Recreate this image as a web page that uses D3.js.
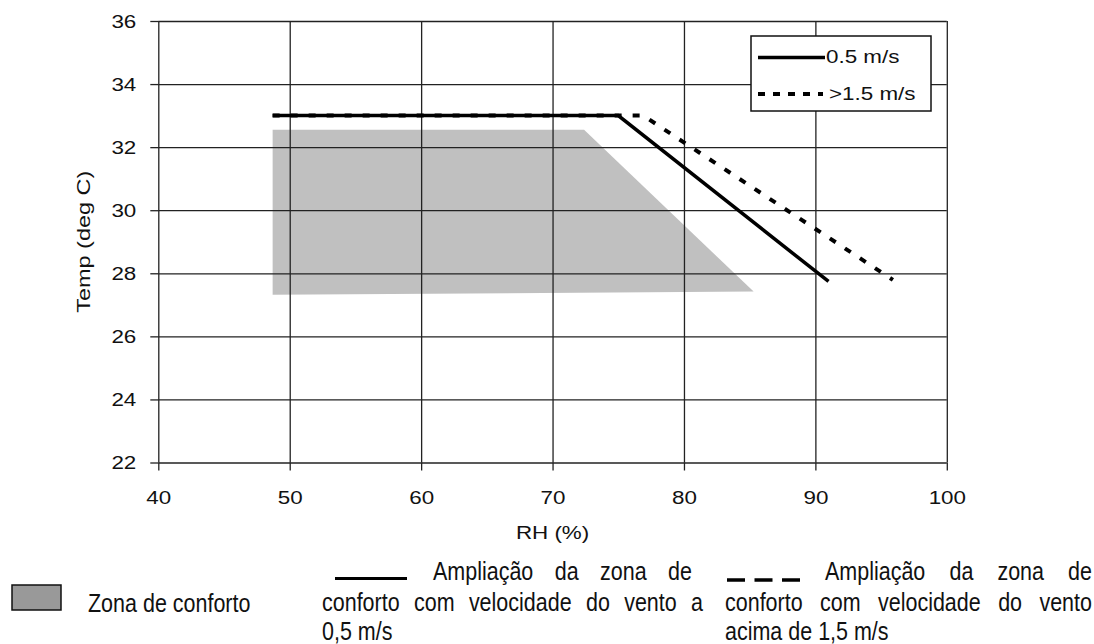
<!DOCTYPE html>
<html>
<head>
<meta charset="utf-8">
<script src="https://cdn.jsdelivr.net/npm/d3@7"></script>
<style>
  html, body { margin: 0; padding: 0; background: #fff; }
  svg { display: block; }
  text { font-family: "Liberation Sans", Arial, Helvetica, sans-serif; fill: #111; }
</style>
</head>
<body>
<svg id="chart" width="1094" height="644"></svg>
<script>
// ---- data ----
const rhTicks = [40, 50, 60, 70, 80, 90, 100];
const tempTicks = [22, 24, 26, 28, 30, 32, 34, 36];

const comfortRH   = [48.7, 72.4, 85.3, 48.7];
const comfortTemp = [32.55, 32.55, 27.42, 27.32];

const lowWindRH   = [48.7, 75.0, 91.0];
const lowWindTemp = [33.0, 33.0, 27.74];

const highWindRH   = [48.7, 76.9, 95.9];
const highWindTemp = [33.0, 33.0, 27.79];

const xTitle = "RH (%)";
const yTitle = "Temp (deg C)";
const plotLegend = ["0.5 m/s", ">1.5 m/s"];
const comfortLabel = "Zona de conforto";
const lowWindLines = ["Ampliação da zona de", "conforto com velocidade do vento a", "0,5 m/s"];
const highWindLines = ["Ampliação da zona de", "conforto com velocidade do vento", "acima de 1,5 m/s"];

// ---- layout ----
const svg = d3.select("#chart");
const L = 158.3, R = 946.8, T = 21, B = 462.5;
const x = d3.scaleLinear().domain([40, 100]).range([L, R]);
const y = d3.scaleLinear().domain([22, 36]).range([B, T]);
const W = R - L, H = B - T;
const SX = 1.28; // wide glyphs in plot text

// comfort zone
const zone = comfortRH.map((v, i) => [x(v), y(comfortTemp[i])]);
svg.append("polygon")
  .attr("points", zone.map(p => p.join(",")).join(" "))
  .attr("fill", "#c0c0c0");

// grid
const gridY = svg.append("g").attr("transform", `translate(${L},0)`)
  .call(d3.axisLeft(y).tickValues(tempTicks).tickSize(-W).tickFormat(""));
const gridX = svg.append("g").attr("transform", `translate(0,${B})`)
  .call(d3.axisBottom(x).tickValues(rhTicks).tickSize(-H).tickFormat(""));
[gridY, gridX].forEach(g => {
  g.select(".domain").remove();
  g.selectAll("line").attr("stroke", "#222").attr("stroke-width", 1.3);
});

// axes with outward ticks and labels
const yAxis = svg.append("g").attr("transform", `translate(${L},0)`)
  .call(d3.axisLeft(y).tickValues(tempTicks).tickSize(8).tickFormat(d3.format("d")));
const xAxis = svg.append("g").attr("transform", `translate(0,${B})`)
  .call(d3.axisBottom(x).tickValues(rhTicks).tickSize(8).tickFormat(d3.format("d")));
[yAxis, xAxis].forEach(g => {
  g.select(".domain").remove();
  g.selectAll("line").attr("stroke", "#222").attr("stroke-width", 1.3);
  g.selectAll("text").attr("font-size", 17.5).attr("fill", "#111")
    .attr("font-family", "Liberation Sans, Arial, sans-serif");
});
yAxis.selectAll("text")
  .attr("x", 0).attr("dy", "0.36em").attr("text-anchor", "end")
  .attr("transform", `translate(-22,0) scale(${SX},1)`);
xAxis.selectAll("text")
  .attr("y", 0).attr("dy", 0).attr("text-anchor", "middle")
  .attr("transform", `translate(0,41) scale(${SX},1)`);

// axis titles
svg.append("text")
  .attr("transform", `translate(${(L + R) / 2},539) scale(${SX},1)`)
  .attr("text-anchor", "middle").attr("font-size", 17.5).text(xTitle);
svg.append("text")
  .attr("transform", `translate(90,${(T + B) / 2}) rotate(-90) scale(1.34,1)`)
  .attr("text-anchor", "middle").attr("font-size", 17.5).text(yTitle);

// lines
const line = d3.line();
svg.append("path")
  .attr("d", line(highWindRH.map((v, i) => [x(v), y(highWindTemp[i])])))
  .attr("fill", "none").attr("stroke", "#000").attr("stroke-width", 4)
  .attr("stroke-dasharray", "7,11");
svg.append("path")
  .attr("d", line(lowWindRH.map((v, i) => [x(v), y(lowWindTemp[i])])))
  .attr("fill", "none").attr("stroke", "#000").attr("stroke-width", 3.5);

// in-plot legend
const lg = svg.append("g");
lg.append("rect").attr("x", 751).attr("y", 36).attr("width", 180).attr("height", 75)
  .attr("fill", "#fff").attr("stroke", "#111").attr("stroke-width", 1.5);
lg.append("line").attr("x1", 758).attr("x2", 825).attr("y1", 57.5).attr("y2", 57.5)
  .attr("stroke", "#000").attr("stroke-width", 3.5);
lg.append("line").attr("x1", 758).attr("x2", 823).attr("y1", 94).attr("y2", 94)
  .attr("stroke", "#000").attr("stroke-width", 4).attr("stroke-dasharray", "7,8");
lg.append("text").attr("transform", `translate(826,63) scale(${SX},1)`)
  .attr("font-size", 17.5).text(plotLegend[0]);
lg.append("text").attr("transform", `translate(829,100) scale(${SX},1)`)
  .attr("font-size", 17.5).text(plotLegend[1]);

// ---- bottom legend ----
const NS = 0.86, FS = 25;
const bl = svg.append("g");
bl.append("rect").attr("x", 12).attr("y", 585).attr("width", 49).attr("height", 25)
  .attr("fill", "#999").attr("stroke", "#111").attr("stroke-width", 1.5);
bl.append("text").attr("transform", `translate(88,611.5) scale(${NS},1)`)
  .attr("font-size", FS).text(comfortLabel);

bl.append("line").attr("x1", 335).attr("x2", 407).attr("y1", 578.5).attr("y2", 578.5)
  .attr("stroke", "#000").attr("stroke-width", 3);
bl.append("line").attr("x1", 727).attr("x2", 800).attr("y1", 580).attr("y2", 580)
  .attr("stroke", "#000").attr("stroke-width", 3.5).attr("stroke-dasharray", "18,9.5");

function placeLine(str, x0, x1, base, justify) {
  const words = str.split(" ");
  if (!justify) {
    bl.append("text").attr("transform", `translate(${x0},${base}) scale(${NS},1)`)
      .attr("font-size", FS).text(str);
    return;
  }
  const nodes = words.map(w => bl.append("text").attr("font-size", FS).text(w));
  const widths = nodes.map(n => n.node().getComputedTextLength() * NS);
  const total = d3.sum(widths);
  const gap = (x1 - x0 - total) / (words.length - 1);
  let cx = x0;
  nodes.forEach((n, i) => {
    n.attr("transform", `translate(${cx},${base}) scale(${NS},1)`);
    cx += widths[i] + gap;
  });
}
const bases = [579.5, 611, 639.5];
placeLine(lowWindLines[0], 433, 692, bases[0], true);
placeLine(lowWindLines[1], 322, 703, bases[1], true);
placeLine(lowWindLines[2], 322, 0, bases[2], false);
placeLine(highWindLines[0], 825, 1092, bases[0], true);
placeLine(highWindLines[1], 725, 1092, bases[1], true);
placeLine(highWindLines[2], 725, 0, bases[2], false);
</script>
</body>
</html>
